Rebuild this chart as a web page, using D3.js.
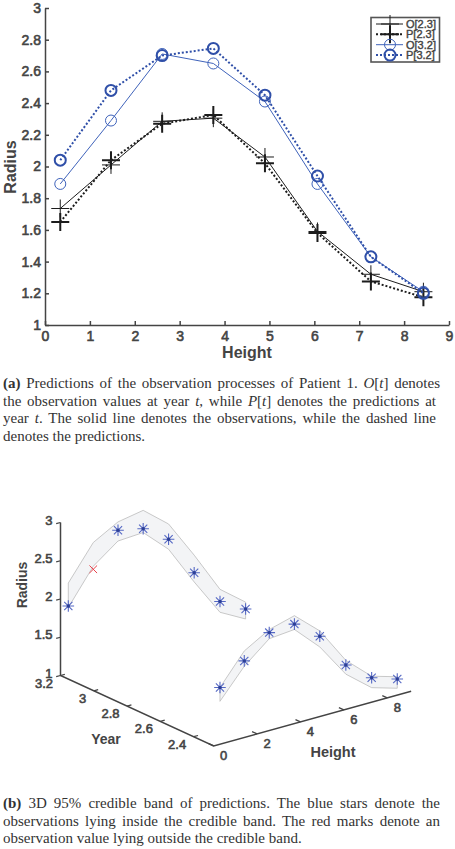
<!DOCTYPE html>
<html>
<head>
<meta charset="utf-8">
<script src="https://cdn.jsdelivr.net/npm/d3@7"></script>
<style>
html, body { margin: 0; padding: 0; background: #fff; }
svg { display: block; }
.tick text, .lab { font-family: "Liberation Sans", sans-serif; font-weight: normal; fill: #444; stroke: #444; stroke-width: 0.6px; }
.title { font-weight: bold; stroke: none; }
.axis path, .axis line { stroke: #444; stroke-width: 1.5; }
.cap { font-family: "Liberation Serif", serif; font-size: 15px; fill: #333; }
</style>
</head>
<body>
<div id="chart"></div>
<script>
// top plot
const heights = [0.34, 1.47, 2.61, 3.75, 4.9, 6.07, 7.26, 8.43];
const o23 = [1.735, 2.01, 2.285, 2.305, 2.06, 1.59, 1.32, 1.21];
const p23 = [1.65, 2.04, 2.27, 2.325, 2.02, 1.58, 1.275, 1.175];
const o32 = [1.89, 2.29, 2.71, 2.65, 2.41, 1.89, 1.43, 1.21];
const p32 = [2.04, 2.48, 2.70, 2.745, 2.45, 1.94, 1.43, 1.20];
const legendNames = ['O[2.3]', 'P[2.3]', 'O[3.2]', 'P[3.2]'];
const xTicks = [0, 1, 2, 3, 4, 5, 6, 7, 8, 9];
const yTicks = [1, 1.2, 1.4, 1.6, 1.8, 2, 2.2, 2.4, 2.6, 2.8, 3];

// 3d plot
const backYear = 3.2;
const frontYear = 2.28;
const backHeights = [0.36, 1.51, 2.65, 3.81, 4.98, 6.16, 7.35, 8.53];
const backObs = [1.88, 2.27, 2.69, 2.62, 2.39, 1.86, 1.39, 1.20];
const backUpper = [2.18, 2.62, 2.80, 2.86, 2.59, 2.09, 1.55, 1.29];
const backLower = [1.86, 2.31, 2.55, 2.57, 2.26, 1.74, 1.25, 1.07];
const frontHeights = [0.29, 1.41, 2.56, 3.72, 4.89, 6.09, 7.28, 8.46];
const frontObs = [1.74, 2.00, 2.28, 2.30, 2.05, 1.58, 1.32, 1.21];
const frontUpper = [1.74, 2.13, 2.32, 2.41, 2.12, 1.64, 1.34, 1.24];
const frontLower = [1.56, 1.93, 2.20, 2.23, 1.91, 1.46, 1.19, 1.09];
const outsideIndex = 1; // the one red mark, on the back band
const radiusTicks = [1, 1.5, 2, 2.5, 3];
const yearTicks = [3.2, 3, 2.8, 2.6, 2.4];
const heightTicks = [0, 2, 4, 6, 8];

const captionA = [
    [['(a)', 'b'], [' Predictions of the observation processes of Patient 1. '], ['O', 'i'], ['['], ['t', 'i'], ['] denotes']],
    [['the observation values at year '], ['t', 'i'], [', while '], ['P', 'i'], ['['], ['t', 'i'], ['] denotes the predictions at']],
    [['year '], ['t', 'i'], ['. The solid line denotes the observations, while the dashed line']],
    [['denotes the predictions.']]
];
const captionB = [
    [['(b)', 'b'], [' 3D 95% credible band of predictions. The blue stars denote the']],
    [['observations lying inside the credible band. The red marks denote an']],
    [['observation value lying outside the credible band.']]
];

const blue = '#2f4fa8', lightBlue = '#3f63bb', black = '#1c1c1c';

let svg = d3.select('#chart').append('svg').attr('width', 455).attr('height', 849);

// ---- (a) line plot ----
let x = d3.scaleLinear().domain([0, 9]).range([45, 449]);
let y = d3.scaleLinear().domain([1, 3]).range([325, 8]);

svg.append('g').attr('class', 'axis')
    .attr('transform', 'translate(0,325)')
    .call(d3.axisBottom(x).tickValues(xTicks).tickFormat(d => d).tickSizeInner(-4).tickSizeOuter(0).tickPadding(6))
    .selectAll('text').style('font-size', '14px');
svg.append('g').attr('class', 'axis')
    .attr('transform', 'translate(45,0)')
    .call(d3.axisLeft(y).tickValues(yTicks).tickFormat(d => d).tickSizeInner(-4).tickSizeOuter(0).tickPadding(4))
    .selectAll('text').style('font-size', '14px');

svg.append('text').attr('class', 'lab title').attr('x', 247).attr('y', 358)
    .attr('text-anchor', 'middle').style('font-size', '16px').text('Height');
svg.append('text').attr('class', 'lab title').attr('transform', 'translate(16,167) rotate(-90)')
    .attr('text-anchor', 'middle').style('font-size', '16px').text('Radius');

const series = [
    {values: o23, color: black, width: 1, dash: null, marker: 'plus'},
    {values: p23, color: black, width: 2, dash: '2 2', marker: 'plus'},
    {values: o32, color: lightBlue, width: 1, dash: null, marker: 'circle'},
    {values: p32, color: blue, width: 2, dash: '2 2', marker: 'circle'}
];

function drawMarker(g, s, px, py) {
    if (s.marker === 'plus') {
        g.append('path')
            .attr('d', `M${px - 9},${py}H${px + 9}M${px},${py - 9}V${py + 9}`)
            .attr('fill', 'none').attr('stroke', s.color).attr('stroke-width', s.width);
    } else {
        g.append('circle').attr('cx', px).attr('cy', py).attr('r', 5.5)
            .attr('fill', 'none').attr('stroke', s.color).attr('stroke-width', s.width);
    }
}

let line = d3.line().x((d, i) => x(heights[i])).y(d => y(d));
series.forEach(s => {
    let g = svg.append('g');
    g.append('path').attr('d', line(s.values))
        .attr('fill', 'none').attr('stroke', s.color).attr('stroke-width', s.width)
        .attr('stroke-dasharray', s.dash);
    s.values.forEach((v, i) => drawMarker(g, s, x(heights[i]), y(v)));
});

// legend
let legend = svg.append('g');
legend.append('rect').attr('x', 371).attr('y', 17.5).attr('width', 68.5).attr('height', 44.5)
    .attr('fill', '#fff').attr('stroke', '#555').attr('stroke-width', 1.6);
series.forEach((s, i) => {
    let ly = 24 + i * 10.35;
    legend.append('line').attr('x1', 376).attr('x2', 403).attr('y1', ly).attr('y2', ly)
        .attr('stroke', s.color).attr('stroke-width', s.width).attr('stroke-dasharray', s.dash);
    drawMarker(legend, s, 390, ly);
    legend.append('text').attr('class', 'lab').attr('x', 406).attr('y', ly + 4)
        .style('font-size', '11px').style('stroke-width', '0.4px').text(legendNames[i]);
});

// ---- (b) 3d plot ----
let hX = d3.scaleLinear().domain([0, 1]).range([0, 21.7]);
let hY = d3.scaleLinear().domain([0, 1]).range([0, -6]);
let yearX = d3.scaleLinear().domain([3.2, 2.2]).range([60.5, 227]);
let yearY = d3.scaleLinear().domain([3.2, 2.2]).range([0, 76.5]);
let rY = d3.scaleLinear().domain([1, 3]).range([675.5, 522.5]);

function project(h, yr, r) {
    return [hX(h) + yearX(yr), hY(h) + yearY(yr) + rY(r)];
}

let plot3d = svg.append('g');

function drawBand(hs, yr, upper, lower) {
    let pts = hs.map((h, i) => project(h, yr, upper[i]))
        .concat(hs.map((h, i) => project(h, yr, lower[i])).reverse());
    plot3d.append('path').attr('d', d3.line()(pts) + 'Z')
        .attr('fill', '#f3f4f6').attr('stroke', '#bbb').attr('stroke-width', 0.8);
}
drawBand(backHeights, backYear, backUpper, backLower);
drawBand(frontHeights, frontYear, frontUpper, frontLower);

function drawStar(p) {
    let a = 5.8, b = 4.1;
    plot3d.append('path')
        .attr('d', `M${p[0] - a},${p[1]}H${p[0] + a}M${p[0]},${p[1] - a}V${p[1] + a}` +
            `M${p[0] - b},${p[1] - b}L${p[0] + b},${p[1] + b}M${p[0] - b},${p[1] + b}L${p[0] + b},${p[1] - b}`)
        .attr('stroke', '#5568c4').attr('stroke-width', 1.1).attr('fill', 'none');
    plot3d.append('circle').attr('cx', p[0]).attr('cy', p[1]).attr('r', 1.7).attr('fill', '#2c3f96');
}
function drawCross(p) {
    let c = 3.8;
    plot3d.append('path')
        .attr('d', `M${p[0] - c},${p[1] - c}L${p[0] + c},${p[1] + c}M${p[0] - c},${p[1] + c}L${p[0] + c},${p[1] - c}`)
        .attr('stroke', '#e8404a').attr('stroke-width', 1).attr('fill', 'none');
}
backObs.forEach((r, i) => {
    let p = project(backHeights[i], backYear, r);
    if (i === outsideIndex) drawCross(p); else drawStar(p);
});
frontObs.forEach((r, i) => drawStar(project(frontHeights[i], frontYear, r)));

// axes go radius -> year -> height
let axisPath = [
    project(0, backYear, 3), project(0, backYear, 1),
    project(0, frontYear, 1), project(9.1, frontYear, 1)
];
plot3d.append('path').attr('d', d3.line()(axisPath))
    .attr('fill', 'none').attr('stroke', '#444').attr('stroke-width', 1.5);

function drawTick(from, to, label, dx, dy, anchor) {
    plot3d.append('line')
        .attr('x1', from[0]).attr('y1', from[1]).attr('x2', to[0]).attr('y2', to[1])
        .attr('stroke', '#444').attr('stroke-width', 1.2);
    plot3d.append('text').attr('class', 'lab').attr('x', from[0] + dx).attr('y', from[1] + dy)
        .attr('text-anchor', anchor).style('font-size', '13px').text(label);
}
radiusTicks.forEach(r => drawTick(project(0, backYear, r), project(-0.2, backYear, r), r, -8, 2, 'end'));
yearTicks.forEach(t => drawTick(project(0, t, 1), project(0.2, t, 1), t, -7.5, 12, 'end'));
heightTicks.forEach(h => drawTick(project(h, frontYear, 1), project(h, frontYear + 0.03, 1), h, 10, 14, 'middle'));

plot3d.append('text').attr('class', 'lab title').attr('x', 106).attr('y', 744)
    .attr('text-anchor', 'middle').style('font-size', '14px').text('Year');
plot3d.append('text').attr('class', 'lab title').attr('x', 333).attr('y', 757)
    .attr('text-anchor', 'middle').style('font-size', '14.5px').text('Height');
plot3d.append('text').attr('class', 'lab title').attr('transform', 'translate(27,585) rotate(-90)')
    .attr('text-anchor', 'middle').style('font-size', '14px').text('Radius');

// ---- captions, stretched to the column like the journal does ----
function drawCaption(lines, top, widths) {
    lines.forEach((parts, i) => {
        let t = svg.append('text').attr('class', 'cap').attr('x', 3).attr('y', top + i * 17.5).attr('xml:space', 'preserve');
        parts.forEach(p => {
            t.append('tspan').text(p[0])
                .style('font-weight', p[1] === 'b' ? 'bold' : null)
                .style('font-style', p[1] === 'i' ? 'italic' : null);
        });
        if (widths[i]) {
            let gaps = parts.map(p => p[0]).join('').split(' ').length - 1;
            let extra = (widths[i] - t.node().getComputedTextLength()) / gaps;
            t.style('word-spacing', extra + 'px');
        }
    });
}
drawCaption(captionA, 388, [437, 433, 433, 0]);
drawCaption(captionB, 808, [437, 437, 0]);
</script>
</body>
</html>
